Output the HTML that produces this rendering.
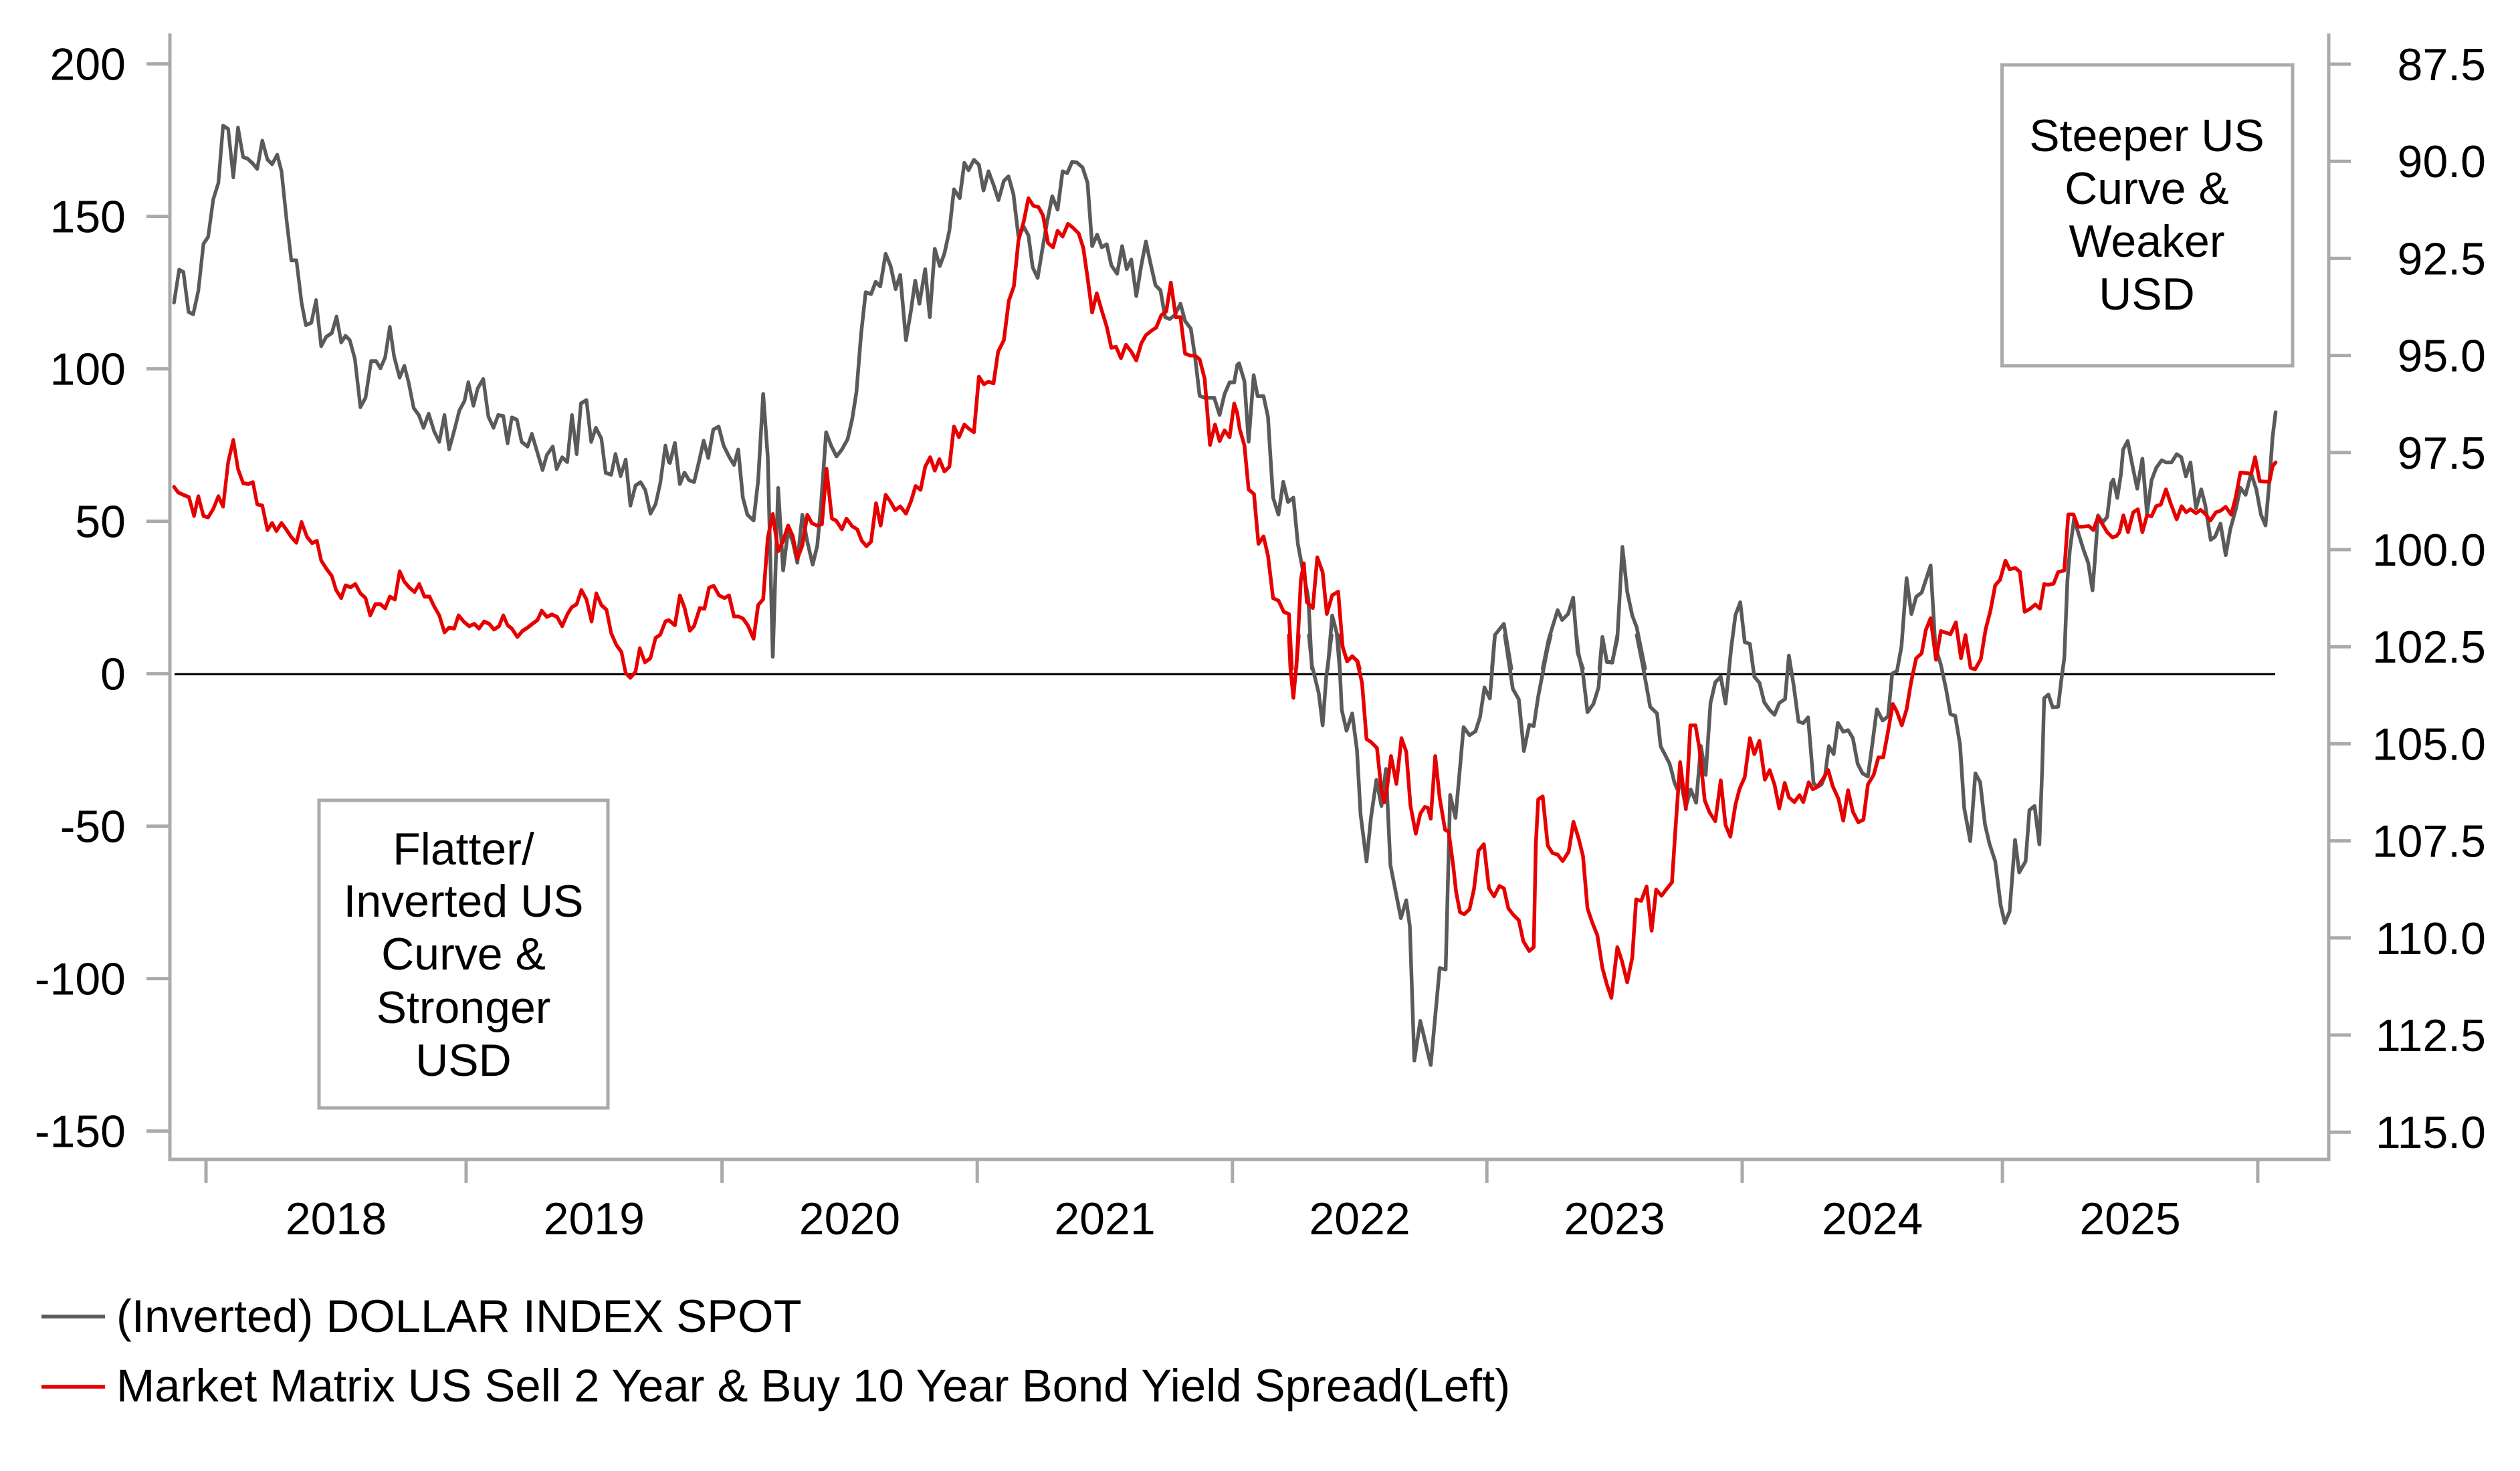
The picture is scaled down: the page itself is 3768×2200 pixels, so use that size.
<!DOCTYPE html>
<html>
<head>
<meta charset="utf-8">
<style>
html,body{margin:0;padding:0;background:#fff;}
body{width:3768px;height:2200px;overflow:hidden;}
svg{display:block;}
text{font-family:"Liberation Sans",Arial,sans-serif;fill:#000;}
.g{fill:none;stroke:#5a5a5a;stroke-linejoin:round;stroke-linecap:round;}
.r{fill:none;stroke:#e60000;stroke-linejoin:round;stroke-linecap:round;}
</style>
</head>
<body>
<svg width="3768" height="2200" viewBox="0 0 3768 2200" xmlns="http://www.w3.org/2000/svg">
<rect x="0" y="0" width="3768" height="2200" fill="#fff"/>

<!-- axes -->
<g stroke="#aaaaaa" stroke-width="5" fill="none">
  <line x1="254" y1="50" x2="254" y2="1736"/>
  <line x1="3482" y1="50" x2="3482" y2="1736"/>
  <line x1="251.5" y1="1734" x2="3484.5" y2="1734"/>
  <line x1="219" y1="95.6" x2="254" y2="95.6"/>
  <line x1="219" y1="323.6" x2="254" y2="323.6"/>
  <line x1="219" y1="551.6" x2="254" y2="551.6"/>
  <line x1="219" y1="779.6" x2="254" y2="779.6"/>
  <line x1="219" y1="1007.6" x2="254" y2="1007.6"/>
  <line x1="219" y1="1235.6" x2="254" y2="1235.6"/>
  <line x1="219" y1="1463.6" x2="254" y2="1463.6"/>
  <line x1="219" y1="1691.6" x2="254" y2="1691.6"/>
  <line x1="3482" y1="96" x2="3515" y2="96"/>
  <line x1="3482" y1="241.2" x2="3515" y2="241.2"/>
  <line x1="3482" y1="386.4" x2="3515" y2="386.4"/>
  <line x1="3482" y1="531.6" x2="3515" y2="531.6"/>
  <line x1="3482" y1="676.8" x2="3515" y2="676.8"/>
  <line x1="3482" y1="822" x2="3515" y2="822"/>
  <line x1="3482" y1="967.2" x2="3515" y2="967.2"/>
  <line x1="3482" y1="1112.4" x2="3515" y2="1112.4"/>
  <line x1="3482" y1="1257.6" x2="3515" y2="1257.6"/>
  <line x1="3482" y1="1402.8" x2="3515" y2="1402.8"/>
  <line x1="3482" y1="1548" x2="3515" y2="1548"/>
  <line x1="3482" y1="1693.2" x2="3515" y2="1693.2"/>
  <line x1="308" y1="1734" x2="308" y2="1769"/>
  <line x1="697" y1="1734" x2="697" y2="1769"/>
  <line x1="1079.6" y1="1734" x2="1079.6" y2="1769"/>
  <line x1="1461.2" y1="1734" x2="1461.2" y2="1769"/>
  <line x1="1842.8" y1="1734" x2="1842.8" y2="1769"/>
  <line x1="2223.2" y1="1734" x2="2223.2" y2="1769"/>
  <line x1="2605" y1="1734" x2="2605" y2="1769"/>
  <line x1="2994.1" y1="1734" x2="2994.1" y2="1769"/>
  <line x1="3375.9" y1="1734" x2="3375.9" y2="1769"/>
  <rect x="477" y="1197" width="432" height="460"/>
  <rect x="2993.5" y="97" width="434.5" height="450"/>
</g>

<line x1="261" y1="1008.3" x2="3402" y2="1008.3" stroke="#000" stroke-width="3.2"/>

<g font-size="68" text-anchor="end">
  <text x="188" y="119.6">200</text>
  <text x="188" y="347.6">150</text>
  <text x="188" y="575.6">100</text>
  <text x="188" y="803.6">50</text>
  <text x="188" y="1031.6">0</text>
  <text x="188" y="1259.6">-50</text>
  <text x="188" y="1487.6">-100</text>
  <text x="188" y="1715.6">-150</text>
</g>
<g font-size="68" text-anchor="end">
  <text x="3717" y="120">87.5</text>
  <text x="3717" y="265.2">90.0</text>
  <text x="3717" y="410.4">92.5</text>
  <text x="3717" y="555.6">95.0</text>
  <text x="3717" y="700.8">97.5</text>
  <text x="3717" y="846">100.0</text>
  <text x="3717" y="991.2">102.5</text>
  <text x="3717" y="1136.4">105.0</text>
  <text x="3717" y="1281.6">107.5</text>
  <text x="3717" y="1426.8">110.0</text>
  <text x="3717" y="1572">112.5</text>
  <text x="3717" y="1717.2">115.0</text>
</g>
<g font-size="68" text-anchor="middle">
  <text x="502.5" y="1846">2018</text>
  <text x="888.3" y="1846">2019</text>
  <text x="1270.4" y="1846">2020</text>
  <text x="1652" y="1846">2021</text>
  <text x="2033" y="1846">2022</text>
  <text x="2414.1" y="1846">2023</text>
  <text x="2799.6" y="1846">2024</text>
  <text x="3185" y="1846">2025</text>
</g>

<g font-size="68" text-anchor="middle">
  <text x="693" y="1293">Flatter/</text>
  <text x="693" y="1371">Inverted US</text>
  <text x="693" y="1450">Curve &amp;</text>
  <text x="693" y="1530">Stronger</text>
  <text x="693" y="1609">USD</text>
  <text x="3210" y="226">Steeper US</text>
  <text x="3210" y="305">Curve &amp;</text>
  <text x="3210" y="384">Weaker</text>
  <text x="3210" y="463">USD</text>
</g>

<!-- GRAY SERIES -->
<g transform="matrix(0.63776 0 0 0.70153 0 0)" stroke-width="8.3">
<polyline class="g" points="408,645 420,575 430,580 442,665 453,670 465,620 477,520 488,505 500,425 512,390 523,268 535,275 547,378 558,272 570,335 580,338 592,348 603,360 615,300 627,340 638,350 650,330 660,365 672,470 683,555 695,555 707,645 717,693 730,688 741,640 753,738 765,718 778,710 789,675 800,730 810,716 820,725 832,765 845,868 857,848 870,770 882,770 892,785 903,762 914,697 924,760 937,805 948,780 958,815 970,870 982,885 993,912 1005,882 1018,920 1030,942 1042,885 1053,958 1065,918 1077,875 1089,855 1098,815 1110,865 1120,828 1133,808 1145,888 1157,912 1168,885 1180,887 1190,945 1200,890 1212,895 1223,942 1237,952 1247,925 1260,965 1272,1002 1282,970 1296,952 1305,1000 1318,975 1330,985 1341,885 1352,968 1362,860 1375,853 1386,942 1397,912 1410,935 1420,1008 1433,1012 1443,968 1455,1015 1467,980 1478,1078 1490,1035 1502,1028 1513,1045 1525,1095 1537,1075 1548,1030 1560,950 1568,985"/>
</g>
<g transform="translate(950 150) scale(0.57398)" stroke-width="9.6">
<polyline class="g" points="87,942 90,945 103,893 116,1000 128,970 140,990 153,995 165,945 178,887 190,932 203,858 217,850 230,900 245,930 257,950 268,910 280,1035 292,1080 308,1095 320,990 333,765 345,930 358,1450 372,1010 385,1225 398,1120 410,1150 422,1205 435,1080 448,1150 462,1210 474,1160 484,1050 497,865 510,900 524,928 538,910 553,883 565,830 576,760 588,610 600,500 614,505 626,473 638,485 652,400 665,432 678,492 690,455 705,625 718,548 729,470 740,530 755,440 767,565 780,387 793,432 805,400 818,340 830,232 845,255 857,163 868,182 882,155 895,168 907,235 920,185 933,220 946,260 960,210 972,198 985,245 998,355 1012,330 1024,352 1035,435 1048,463 1060,390 1073,315 1086,250 1100,285 1113,185 1125,190 1138,160 1150,162 1165,175 1178,215 1190,380 1203,350 1215,383 1228,375 1240,430 1255,452 1268,380 1280,440 1292,415 1305,510 1318,430 1330,368 1342,425 1355,482 1368,495 1380,565 1392,570 1405,560 1420,530 1432,575 1447,595 1458,668 1470,770 1482,775 1495,775 1508,775 1522,820 1535,765 1548,735 1560,735 1568,690"/>
</g>
<g transform="translate(1800 300) scale(0.44643)" stroke-width="12.3">
<polyline class="g" points="112,551 118,545 136,605 150,808 167,585 180,655 200,655 215,725 222,840 232,995 250,1052 266,942 282,1010 300,995 315,1150 330,1230 350,1330 362,1568"/>
<polyline class="g" points="415,1568 430,1390 445,1448 455,1568"/>
<polyline class="g" points="965,1568 975,1455 1005,1418 1030,1568"/>
<polyline class="g" points="1135,1568 1155,1470 1185,1372 1200,1405 1220,1385 1237,1330 1252,1515 1270,1568"/>
<polyline class="g" points="1325,1568 1335,1462 1350,1545 1368,1545 1385,1468 1402,1160 1418,1310 1435,1390 1450,1430 1478,1568"/>
</g>
<g transform="translate(1800 950) scale(0.44643)" stroke-width="12.3">
<polyline class="g" points="352,0 362,100 385,195 398,302 410,140 428,0"/>
<polyline class="g" points="450,0 462,250 478,320 497,262 513,385 525,600 545,758 560,610 578,485 595,572 610,448 625,770 660,948 678,888 690,975 705,1425 725,1292 760,1440 790,1115 810,1120 825,535 843,612 870,308 890,335 910,322 925,275 940,175 958,212 975,0"/>
<polyline class="g" points="1008,0 1035,180 1055,215 1072,388 1090,300 1105,305 1120,205 1150,50 1162,0"/>
<polyline class="g" points="1248,0 1255,60 1270,130 1285,258 1305,230 1322,175 1335,10 1350,90 1368,92 1385,0"/>
<polyline class="g" points="1450,0 1470,100 1495,240 1518,262 1530,372 1560,430 1568,460"/>
</g>
<g transform="translate(2450 750) scale(0.47832)" stroke-width="11.5">
<polyline class="g" points="104.5,847 112,878 120,898 133,883 148,955 163,900 180,942 195,765 210,855 225,630 240,565 257,548 272,632 290,455 303,355 318,315 332,440 348,445 362,548 378,567 393,628 410,652 425,667 440,630 458,618 470,482 485,575 500,688 515,693 530,675 547,880 558,893 572,885 583,858 595,765 610,790 623,692 640,720 655,715 670,740 685,820 700,850 717,860 730,765 745,650 763,685 780,672 793,538 808,530 822,453 838,240 853,352 868,298 885,285 900,240 913,200 928,455 945,510 962,590 975,665 990,670 1005,760 1018,958 1037,1062 1053,850 1068,878 1083,1010 1097,1070 1115,1125 1132,1262 1145,1318 1160,1282 1177,1058 1190,1160 1210,1125 1222,965 1238,952 1253,1072 1262,832 1268,615 1275,609"/>
</g>
<g transform="translate(3050 480) scale(0.45791)" stroke-width="12">
<polyline class="g" points="21.6,1226 28,1220 42,1262 60,1260 70,1175 80,1100 90,850 98,750 112,645 125,690 142,745 158,790 172,880 180,780 190,635 205,658 220,640 233,530 240,518 253,578 265,500 272,420 287,392 300,460 318,548 335,450 350,630 365,520 380,480 398,455 412,462 430,462 447,435 462,445 477,508 492,462 510,612 527,550 540,600 558,715 572,705 590,662 607,765 622,680 640,615 655,545 672,568 690,498 707,550 722,632 737,668 750,520 760,380 770,298"/>
</g>

<!-- RED SERIES -->
<g transform="matrix(0.63776 0 0 0.70153 0 0)" stroke-width="8.3">
<polyline class="r" points="408,1038 418,1050 430,1055 443,1060 455,1100 465,1058 477,1100 488,1103 500,1085 512,1058 523,1080 535,985 547,938 558,1000 570,1030 582,1032 593,1028 603,1075 615,1078 627,1130 638,1115 648,1132 660,1115 672,1130 683,1145 695,1157 707,1113 720,1145 732,1158 743,1153 753,1195 765,1212 778,1228 788,1258 800,1275 810,1248 822,1252 833,1245 845,1265 857,1275 868,1312 880,1288 892,1288 903,1297 914,1272 926,1278 937,1218 948,1240 960,1253 972,1262 983,1245 995,1272 1007,1272 1018,1293 1030,1312 1042,1348 1053,1338 1065,1340 1075,1312 1087,1325 1100,1335 1112,1330 1123,1340 1135,1325 1147,1330 1158,1342 1170,1335 1180,1312 1190,1333 1200,1340 1213,1358 1225,1345 1237,1338 1248,1330 1260,1322 1270,1302 1282,1315 1294,1310 1306,1315 1318,1335 1330,1310 1340,1295 1352,1288 1363,1258 1375,1278 1387,1325 1398,1265 1410,1290 1422,1300 1433,1350 1445,1375 1457,1390 1467,1435 1478,1445 1490,1432 1500,1382 1512,1412 1525,1403 1537,1360 1548,1353 1560,1325 1568,1322"/>
</g>
<g transform="translate(950 150) scale(0.57398)" stroke-width="9.6">
<polyline class="r" points="87,1355 90,1357 103,1368 116,1290 128,1322 142,1382 153,1370 168,1323 180,1325 192,1270 204,1265 218,1290 232,1297 244,1290 257,1345 268,1345 280,1350 293,1368 308,1403 320,1315 333,1300 345,1140 358,1078 372,1175 385,1148 398,1108 410,1135 422,1195 435,1160 448,1080 460,1102 473,1108 486,1105 498,960 512,1090 523,1095 538,1118 550,1090 565,1110 578,1118 590,1148 602,1162 614,1150 627,1050 639,1108 652,1028 664,1045 677,1068 690,1058 705,1077 718,1045 730,1005 743,1015 755,955 768,930 780,965 792,935 805,967 818,955 830,850 843,878 857,845 868,855 882,865 895,720 908,740 920,733 933,738 945,655 960,625 973,522 986,485 998,365 1012,315 1024,255 1037,275 1050,278 1062,300 1075,372 1088,383 1100,340 1113,355 1127,322 1140,332 1155,347 1167,385 1178,462 1190,553 1202,503 1215,548 1228,590 1240,645 1252,642 1265,672 1278,637 1292,655 1305,678 1318,633 1330,612 1345,600 1357,592 1370,560 1383,550 1395,475 1408,565 1420,565 1432,660 1445,665 1458,665 1470,675 1483,725 1497,898 1510,845 1522,888 1535,860 1548,878 1560,790 1568,815"/>
</g>
<g transform="translate(1800 300) scale(0.44643)" stroke-width="12.3">
<polyline class="r" points="112,712 120,765 136,820 150,968 168,983 183,1150 200,1125 215,1190 232,1332 250,1340 268,1378 285,1385 295,1568"/>
<polyline class="r" points="310,1568 325,1270 335,1215 345,1345 365,1365 380,1195 398,1245 412,1385 430,1322 450,1310 465,1495 480,1542 497,1528 515,1543 522,1568"/>
</g>
<g transform="translate(1800 950) scale(0.44643)" stroke-width="12.3">
<polyline class="r" points="285,0 290,110 300,210 310,100 318,0"/>
<polyline class="r" points="460,0 465,40 480,88 497,70 513,85 530,160 545,348 560,358 580,378 595,520 605,560 612,525 627,405 645,498 662,345 678,390 692,570 710,665 725,598 740,575 750,578 760,615 775,405 790,545 808,652 820,658 835,770 845,860 858,928 872,935 890,918 905,850 920,722 938,700 955,848 972,875 990,840 1005,848 1020,915 1035,935 1055,955 1070,1025 1090,1058 1105,1045 1112,700 1120,550 1135,540 1152,705 1168,730 1185,735 1202,757 1222,725 1238,625 1255,680 1270,740 1285,915 1300,960 1318,1005 1335,1115 1350,1170 1365,1215 1385,1045 1400,1090 1418,1163 1435,1080 1448,885 1465,890 1483,842 1500,990 1515,852 1533,873 1550,850 1568,828"/>
</g>
<g transform="translate(2450 750) scale(0.47832)" stroke-width="11.5">
<polyline class="r" points="104.5,1191 115,1030 130,815 148,962 162,700 178,700 190,770 207,935 222,972 240,1000 257,872 272,1012 287,1048 303,948 316,898 332,862 348,740 362,790 378,748 395,870 410,840 425,885 440,960 457,880 470,925 487,940 503,918 515,940 532,878 545,900 558,893 575,870 593,840 607,890 625,930 640,998 655,903 670,970 687,1003 703,995 717,885 735,855 750,800 765,800 778,730 795,633 808,658 823,700 838,650 852,565 868,490 885,475 898,402 913,365 930,495 945,405 960,410 975,415 992,378 1008,490 1022,418 1038,520 1052,525 1070,493 1085,400 1100,342 1115,262 1130,245 1147,185 1160,212 1178,208 1192,220 1207,345 1225,335 1240,322 1255,335 1268,258 1275,260"/>
</g>
<g transform="translate(3050 480) scale(0.45791)" stroke-width="12">
<polyline class="r" points="21.6,861 27,862 45,858 60,820 80,815 93,632 110,632 125,672 140,672 160,670 175,683 190,640 205,665 220,690 237,707 250,703 260,690 273,635 288,690 305,625 320,615 335,690 350,635 365,638 380,605 395,600 412,550 428,598 447,648 463,605 478,625 492,615 510,628 525,617 540,630 557,652 575,625 590,620 607,607 625,633 640,575 655,495 677,497 690,500 703,445 718,523 735,525 750,525 760,475 770,462"/>
</g>

<!-- legend -->
<line x1="62" y1="1969" x2="157" y2="1969" stroke="#5a5a5a" stroke-width="5.5"/>
<line x1="62" y1="2074" x2="157" y2="2074" stroke="#e60000" stroke-width="5.5"/>
<g font-size="68.8">
  <text x="174" y="1992">(Inverted) DOLLAR INDEX SPOT</text>
  <text x="174" y="2096">Market Matrix US Sell 2 Year &amp; Buy 10 Year Bond Yield Spread(Left)</text>
</g>
</svg>
</body>
</html>
